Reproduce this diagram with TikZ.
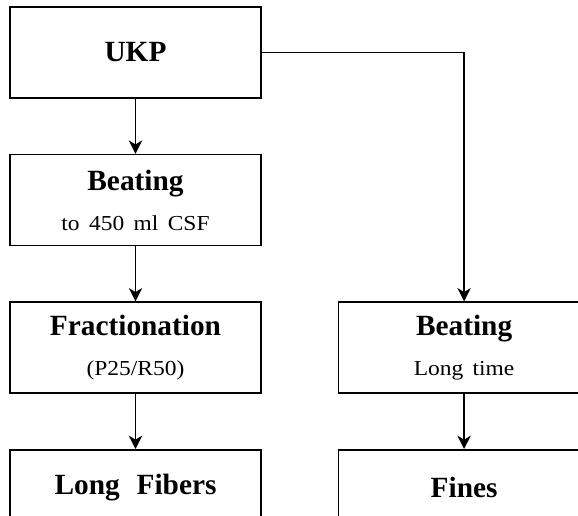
\documentclass[tikz,border=0pt]{standalone}
\usepackage{fontspec}
\setmainfont[WordSpace=2.3]{Liberation Serif}
\newfontfamily\notefont[FakeStretch=1.1,WordSpace=1.6]{Liberation Serif}
\usepackage{tikz}
\usetikzlibrary{positioning, arrows.meta}
\tikzstyle{stage} = [rectangle, minimum height=68.25pt, minimum width=188.25pt, inner sep=0pt, text centered, align=center, draw=black, line width=1.2pt, font=\fontsize{22}{30}\selectfont\bfseries]
\tikzstyle{product} = [stage, minimum height=57pt]
\tikzstyle{arrow} = [line width=1.2pt,-{Stealth[length=10pt,width=10pt,inset=3pt]}]
\newcommand{\note}[1]{{\notefont\mdseries\fontsize{16}{30}\selectfont #1}}

\begin{document}
\begin{tikzpicture}[node distance=41.25pt, x=0.75pt, y=-0.75pt]
        \useasboundingbox (0,0) rectangle (578,516);
        \clip (0,0) rectangle (578,516);
        \node (ukp) [stage] at (135.5,52.5) {UKP};
        \node (beat) [stage, below=of ukp] {Beating\\\note{to 450 ml CSF}};
        \node (frac) [stage, below=of beat] {Fractionation\\\note{(P25/R50)}};
        \node (long) [product, below=of frac] {Long Fibers};
        \node (beatlong) [stage, right=57pt of frac] {Beating\\\note{Long time}};
        \node (fines) [product, below=of beatlong] {Fines};

        \draw [arrow] (ukp) -- (beat);
        \draw [arrow] (beat) -- (frac);
        \draw [arrow] (frac) -- (long);
        \draw [arrow] (ukp) -| (beatlong);
        \draw [arrow] (beatlong) -- (fines);
    \end{tikzpicture}
\end{document}
